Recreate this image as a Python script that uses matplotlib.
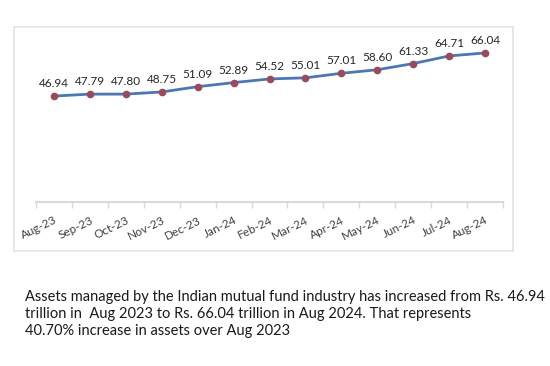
import matplotlib.pyplot as plt
from matplotlib.patches import Rectangle

# data
months = ['Aug-23', 'Sep-23', 'Oct-23', 'Nov-23', 'Dec-23', 'Jan-24', 'Feb-24',
          'Mar-24', 'Apr-24', 'May-24', 'Jun-24', 'Jul-24', 'Aug-24']
aum = [46.94, 47.79, 47.80, 48.75, 51.09, 52.89, 54.52,
       55.01, 57.01, 58.60, 61.33, 64.71, 66.04]

caption = ('Assets managed by the Indian mutual fund industry has increased from Rs. 46.94\n'
           'trillion in  Aug 2023 to Rs. 66.04 trillion in Aug 2024. That represents\n'
           '40.70% increase in assets over Aug 2023')

plt.rcParams['font.family'] = ['Lato', 'DejaVu Sans']

W, H = 550, 366
fig = plt.figure(figsize=(W / 100, H / 100), dpi=100)

# chart frame (light gray box)
fig.patches.append(Rectangle((14 / W, 1 - 251 / H), (513 - 14) / W, (251 - 27) / H,
                             transform=fig.transFigure, fill=False,
                             edgecolor='#e3e3e3', linewidth=1.2))

ax = fig.add_axes([36 / W, 1 - 202 / H, (503 - 36) / W, (202 - 44) / H])
x = list(range(len(months)))
ax.plot(x, aum, color='#4a78b5', linewidth=2, marker='o', markersize=4.5,
        markerfacecolor='#9b4a5a', markeredgecolor='#9b4a5a', zorder=3)

for xi, v in zip(x, aum):
    ax.annotate(f'{v:.2f}', (xi, v), xytext=(0, 5), textcoords='offset points',
                ha='center', va='bottom', fontsize=8.5, color='#262626')

ax.set_xlim(-0.5, len(months) - 0.5)
ax.set_ylim(0, 70)
ax.set_yticks([])
for s in ['top', 'right', 'left']:
    ax.spines[s].set_visible(False)
ax.spines['bottom'].set_color('#d9d9d9')
ax.spines['bottom'].set_linewidth(1.5)

ax.set_xticks(x)
ax.set_xticklabels(months, rotation=26, ha='right', rotation_mode='anchor',
                   fontsize=8.5, color='#404040')
ax.tick_params(axis='x', which='major', length=0, pad=9)
ax.set_xticks([i - 0.5 for i in range(len(months) + 1)], minor=True)
ax.tick_params(axis='x', which='minor', length=4, color='#d9d9d9', width=1)
ax.patch.set_visible(False)

fig.text(25 / W, 1 - 290 / H, caption, fontsize=10.5, color='#1a1a1a',
         va='top', ha='left', linespacing=1.25)

plt.savefig('out.png', dpi=100)
